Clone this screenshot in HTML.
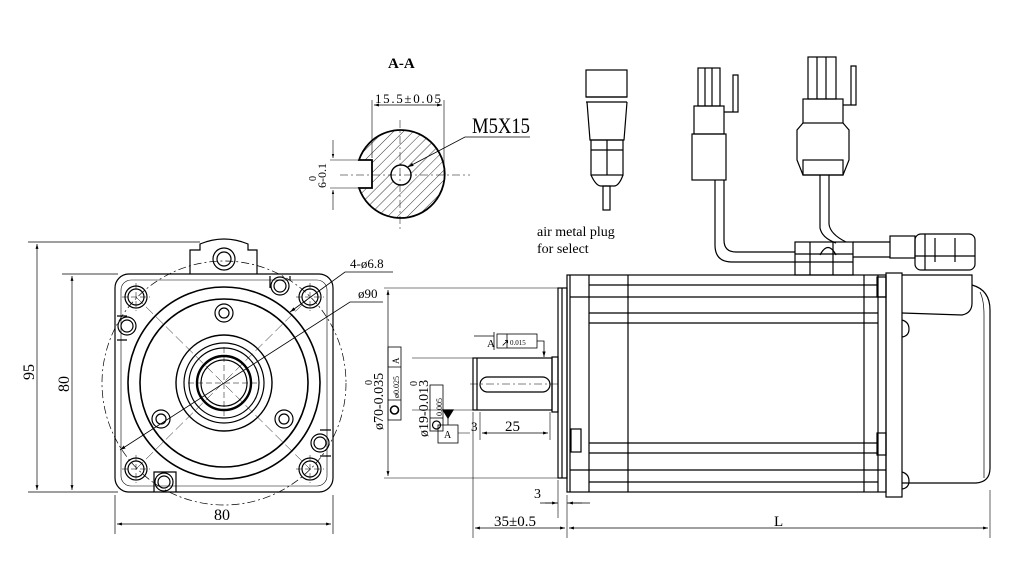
<!DOCTYPE html>
<html><head><meta charset="utf-8"><style>
html,body{margin:0;padding:0;background:#fff;}
svg{display:block;}
text{font-family:"Liberation Serif",serif;fill:#000;}
</style></head><body>
<svg width="1024" height="573" viewBox="0 0 1024 573" xmlns="http://www.w3.org/2000/svg">
<defs>
<marker id="a" viewBox="0 0 10 10" refX="10" refY="5" markerWidth="7" markerHeight="7" orient="auto-start-reverse"><path d="M0,2 L10,5 L0,8z" fill="#000"/></marker>
<pattern id="h" width="7" height="7" patternUnits="userSpaceOnUse" patternTransform="rotate(45)"><line x1="0" y1="0" x2="0" y2="7" stroke="#000" stroke-width="0.8"/></pattern>
</defs>
<g fill="none" stroke="#000" stroke-width="1.2">
<!-- ===== FRONT VIEW ===== -->
<rect x="115" y="274" width="218" height="218" rx="14"/>
<rect x="121" y="280" width="206" height="206" rx="10" stroke-width="0.6"/>
<path d="M190,274 V250 H200 V244 Q224,234 248,244 V250 H257 V274"/>
<circle cx="224" cy="259" r="11"/><circle cx="224" cy="259" r="7"/>
<circle cx="224" cy="383" r="122" stroke-dasharray="8 3 2 3" stroke-width="0.7"/>
<circle cx="224" cy="383" r="96" stroke-width="1.6"/>
<circle cx="224" cy="383" r="84" stroke-width="1.6"/>
<circle cx="224" cy="383" r="48" stroke-width="1.4"/>
<circle cx="224" cy="383" r="40"/>
<circle cx="224" cy="383" r="35"/>
<circle cx="224" cy="383" r="27" stroke-width="2.4"/>
<circle cx="224" cy="383" r="23"/>
<g>
<circle cx="136" cy="297" r="11"/><circle cx="136" cy="297" r="8"/>
<circle cx="310" cy="297" r="11"/><circle cx="310" cy="297" r="8"/>
<circle cx="136" cy="469" r="11"/><circle cx="136" cy="469" r="8"/>
<circle cx="310" cy="469" r="11"/><circle cx="310" cy="469" r="8"/>
<circle cx="224" cy="313" r="9"/><circle cx="224" cy="313" r="5"/>
<circle cx="161" cy="419" r="9"/><circle cx="161" cy="419" r="5"/>
<circle cx="284" cy="419" r="9"/><circle cx="284" cy="419" r="5"/>
<circle cx="127" cy="326" r="9"/><circle cx="127" cy="326" r="6"/>
<path d="M117,316 H127 M117,340 H127"/>
<circle cx="280" cy="286" r="9"/><circle cx="280" cy="286" r="6"/>
<path d="M270,276 V288 M290,276 V280"/>
<circle cx="320" cy="443" r="9"/><circle cx="320" cy="443" r="6"/>
<path d="M331,430 H320 M331,456 H320"/>
<circle cx="164" cy="482" r="9"/><circle cx="164" cy="482" r="6"/>
<path d="M154,492 V472 H176 V492"/>
</g>
<g stroke-width="0.5" stroke-dasharray="6 3">
<path d="M188,383 H260 M224,347 V419"/>
<path d="M122,297 H150 M136,283 V311 M296,297 H324 M310,283 V311 M122,469 H150 M136,455 V483 M296,469 H324 M310,455 V483"/>
</g>
<path d="M136,297 L310,469" stroke-width="0.5" stroke-dasharray="10 4"/>
<path d="M136,469 L310,297" stroke-width="0.5" stroke-dasharray="10 4"/>
<!-- leaders -->
<path d="M120,450 L350,302 H383" stroke-width="0.8" marker-start="url(#a)"/>
<path d="M290,312 L345,272 H393" stroke-width="0.8" marker-start="url(#a)"/>
<!-- dims -->
<path d="M28,242 H200 M62,274 H118 M28,492 H118" stroke-width="0.7"/>
<path d="M37,244 V490" stroke-width="0.7" marker-start="url(#a)" marker-end="url(#a)"/>
<path d="M72,276 V490" stroke-width="0.7" marker-start="url(#a)" marker-end="url(#a)"/>
<path d="M115,495 V534 M333,495 V534" stroke-width="0.7"/>
<path d="M117,524 H331" stroke-width="0.7" marker-start="url(#a)" marker-end="url(#a)"/>

<!-- ===== SIDE VIEW ===== -->
<rect x="567" y="275" width="319" height="217"/>
<path d="M570,275 V492 M589,275 V492 M628,275 V492 M864,275 V492 M878,275 V492"/>
<path d="M589,285 H878 M570,297 H886 M589,313 H878 M589,323 H878 M589,443 H878 M589,453 H878 M570,470 H886 M589,482 H878"/>
<rect x="558" y="288" width="9" height="190"/>
<path d="M562,288 V478"/>
<rect x="552" y="357" width="6" height="55"/>
<rect x="473" y="358" width="79" height="52"/>
<path d="M477,358 V410"/>
<rect x="480" y="377" width="70" height="15" rx="7.5"/>
<path d="M470,384 H560" stroke-width="0.5" stroke-dasharray="8 3 2 3"/>
<rect x="571" y="429" width="10" height="23"/>
<rect x="877" y="277" width="9" height="20"/>
<rect x="877" y="433" width="9" height="22"/>
<rect x="886" y="273" width="16" height="224"/>
<path d="M902,275 H972 V303 Q972,313 962,315 L902,313"/>
<path d="M972,285 Q990,290 990,310 V468 Q990,482 976,483 H902"/>
<path d="M980,292 Q984,300 984,315 V478" stroke-width="0.7"/>
<path d="M902,320 Q909,322 909,329 Q909,336 902,337 M902,472 Q909,474 909,481 Q909,488 902,489"/>
<!-- top connectors on body -->
<rect x="795" y="242" width="58" height="33"/>
<path d="M810,242 V275 M833,242 V275 M795,254 H853 M795,262 H853"/>
<path d="M820,255 Q828,240 836,255"/>
<path d="M853,242 H890 M853,257 H890"/>
<rect x="890" y="236" width="25" height="22"/>
<rect x="915" y="234" width="60" height="36" rx="6"/>
<path d="M925,234 V270 M935,238 V262 M955,238 V262 M915,256 H975"/>
<!-- cables -->
<path d="M715,180 V245 Q715,262 732,262 H795 M724,180 V240 Q724,252 736,252 H795"/>
<path d="M820,175 V228 Q822,238 836,243 M829,175 V224 Q830,234 846,242"/>
<!-- connector 2 -->
<rect x="698" y="68" width="22" height="38"/>
<path d="M705,68 V106 M712,68 V106"/>
<rect x="694" y="106" width="30" height="28"/>
<rect x="692" y="134" width="34" height="46"/>
<path d="M724,112 H738 V75 H733 V112"/>
<!-- connector 3 -->
<rect x="808" y="57" width="28" height="42"/>
<path d="M817,57 V99 M826,57 V99"/>
<rect x="803" y="99" width="40" height="24"/>
<path d="M803,123 L797,130 V160 L803,175 H843 L849,160 V130 L843,123"/>
<rect x="803" y="160" width="40" height="15"/>
<path d="M843,105 H856 V66 H851 V105"/>
<!-- air plug -->
<rect x="586" y="70" width="41" height="27"/>
<path d="M586,97 H627 M586,102 H627"/>
<path d="M587,102 L590,140 H624 L627,102"/>
<rect x="591" y="140" width="32" height="35"/>
<path d="M607,140 V175 M591,150 H623"/>
<path d="M591,175 Q596,186 601,186 H614 Q619,186 623,175"/>
<rect x="603" y="186" width="7" height="24"/>
<!-- tolerance frames -->
<rect x="388" y="347" width="13" height="73" stroke-width="0.8"/>
<path d="M388,367 H401 M388,400 H401" stroke-width="0.8"/>
<circle cx="394.5" cy="410" r="4" stroke-width="1.6"/>
<rect x="430" y="385" width="13" height="46" stroke-width="0.8"/>
<path d="M430,418 H443" stroke-width="0.8"/>
<circle cx="436.5" cy="425" r="4"/>
<rect x="497" y="334" width="40" height="14" stroke-width="0.8"/>
<path d="M507,334 V348" stroke-width="0.8"/>
<path d="M537,341 H544 V357" stroke-width="0.8" marker-end="url(#a)"/>
<path d="M474,336 H494 M494,332 V350" stroke-width="0.8"/>
<rect x="438" y="425" width="20" height="18" stroke-width="0.8"/>
<path d="M448,411 V425" stroke-width="0.8"/>
<path d="M443,410 H453 L448,418z" fill="#000"/>
<!-- side dims -->
<path d="M384,288 H558 M384,478 H558" stroke-width="0.6"/>
<path d="M388,290 V476" stroke-width="0.7" marker-start="url(#a)" marker-end="url(#a)"/>
<path d="M412,358 H473 M412,410 H473" stroke-width="0.6"/>
<path d="M473,412 V538 M567,495 V538 M558,480 V518 M990,490 V538 M480,412 V440" stroke-width="0.6"/>
<path d="M458,433 H470 M550,412 V440" stroke-width="0.6"/>
<path d="M482,433 H548" stroke-width="0.7" marker-start="url(#a)" marker-end="url(#a)"/>
<path d="M540,503 H558 M567,503 H590" stroke-width="0.7"/>
<path d="M545,503 H557" stroke-width="0.7" marker-end="url(#a)"/>
<path d="M582,503 H568" stroke-width="0.7" marker-end="url(#a)"/>
<path d="M475,528 H565" stroke-width="0.7" marker-start="url(#a)" marker-end="url(#a)"/>
<path d="M569,528 H988" stroke-width="0.7" marker-start="url(#a)" marker-end="url(#a)"/>

<!-- ===== SECTION A-A ===== -->
<path d="M372,160 H359 A44,44 0 1 1 359,188 H372 Z" fill="url(#h)" stroke-width="1.8"/>
<circle cx="401" cy="175" r="10" fill="#fff" stroke-width="1.4"/>
<path d="M340,175 H470 M400,120 V230" stroke-width="0.5" stroke-dasharray="8 3 2 3"/>
<path d="M330,160 H360 M330,188 H360" stroke-width="0.6"/>
<path d="M333,140 V158" stroke-width="0.6" marker-end="url(#a)"/>
<path d="M333,210 V190" stroke-width="0.6" marker-end="url(#a)"/>
<path d="M372,100 V158 M444,100 V175" stroke-width="0.6"/>
<path d="M374,105 H442" stroke-width="0.7" marker-start="url(#a)" marker-end="url(#a)"/>
<path d="M408,167 L465,137 H530" stroke-width="0.8" marker-start="url(#a)"/>
</g>
<!-- text -->
<text x="388" y="68" font-size="15" font-weight="bold">A-A</text>
<text x="375" y="103" font-size="13" textLength="66">15.5±0.05</text>
<text x="472" y="133" font-size="22" textLength="58" lengthAdjust="spacingAndGlyphs">M5X15</text>
<text transform="translate(326,188) rotate(-90)" font-size="12">6-0.1</text>
<text transform="translate(316,181) rotate(-90)" font-size="10">0</text>
<text x="537" y="236" font-size="14" font-family="Liberation Mono">air metal plug</text>
<text x="537" y="253" font-size="14" font-family="Liberation Mono">for select</text>
<text x="350" y="268" font-size="13">4-ø6.8</text>
<text x="358" y="298" font-size="13">ø90</text>
<text transform="translate(34,380) rotate(-90)" font-size="16">95</text>
<text transform="translate(69,392) rotate(-90)" font-size="16">80</text>
<text x="214" y="520" font-size="16">80</text>
<text transform="translate(383,430) rotate(-90)" font-size="14">ø70-0.035</text>
<text transform="translate(372,385) rotate(-90)" font-size="10">0</text>
<text transform="translate(399,364) rotate(-90)" font-size="9">A</text>
<text transform="translate(399,398) rotate(-90)" font-size="8">ø0.025</text>
<text transform="translate(428,437) rotate(-90)" font-size="14">ø19-0.013</text>
<text transform="translate(417,386) rotate(-90)" font-size="10">0</text>
<text transform="translate(442,416) rotate(-90)" font-size="8">0.005</text>
<text x="501" y="346" font-size="10">↗</text>
<text x="510" y="345" font-size="7">0.015</text>
<text x="487" y="347" font-size="11">A</text>
<text x="444" y="438" font-size="10">A</text>
<text x="471" y="431" font-size="13">3</text>
<text x="505" y="431" font-size="15">25</text>
<text x="534" y="498" font-size="14">3</text>
<text x="494" y="526" font-size="15">35±0.5</text>
<text x="774" y="526" font-size="15">L</text>
</svg>
</body></html>
